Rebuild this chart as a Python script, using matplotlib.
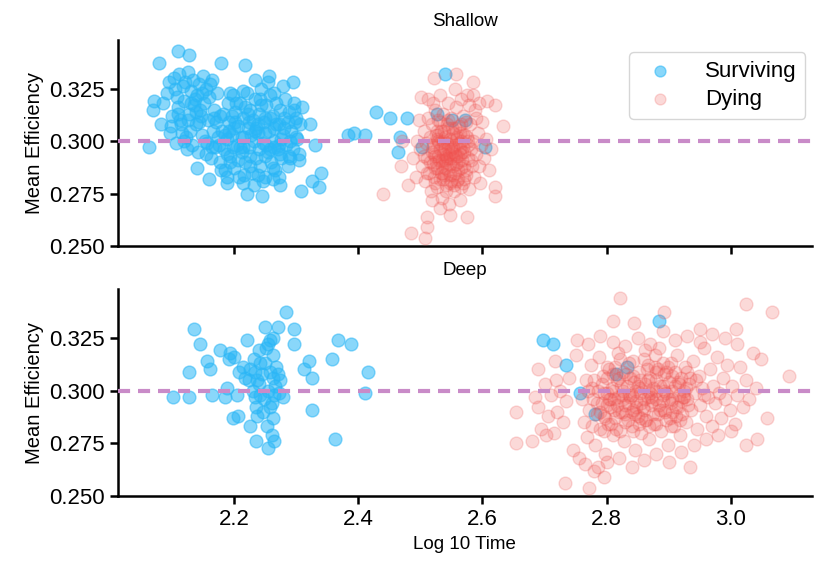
"""Shallow vs deep: mean efficiency against log10 time, surviving vs dying."""
import matplotlib
matplotlib.use("Agg")
import matplotlib.pyplot as plt
from matplotlib.ticker import FormatStrFormatter

plt.rcParams["font.family"] = ["Liberation Sans", "DejaVu Sans"]

# --------------------------------------------------------------
# Shallow panel
# --------------------------------------------------------------
shallow_surv_x = [
    2.063, 2.079, 2.110, 2.128, 2.179, 2.218, 2.256, 2.279, 2.295, 2.322,
    2.306, 2.330, 2.340, 2.325, 2.337, 2.308, 2.245, 2.221, 2.189, 2.160,
    2.140, 2.274, 2.305, 2.290, 2.071, 2.070, 2.083, 2.097,
    2.383, 2.393, 2.411, 2.428, 2.451, 2.478, 2.467, 2.464,
    2.540, 2.527, 2.572, 2.502, 2.604, 2.551,
    2.085, 2.092, 2.095, 2.100, 2.103, 2.108, 2.110, 2.112, 2.115, 2.118,
    2.120, 2.122, 2.125, 2.127, 2.130, 2.132, 2.134, 2.136, 2.138, 2.140,
    2.142, 2.144, 2.146, 2.148, 2.150, 2.152, 2.154, 2.156, 2.158, 2.160,
    2.162, 2.164, 2.166, 2.168, 2.106, 2.116, 2.098, 2.126, 2.172, 2.175,
    2.178, 2.170,
    2.180, 2.182, 2.184, 2.186, 2.188, 2.190, 2.192, 2.194, 2.196, 2.198,
    2.200, 2.202, 2.204, 2.206, 2.208, 2.210, 2.212, 2.214, 2.216, 2.218,
    2.220, 2.222, 2.224, 2.226, 2.228, 2.230, 2.232, 2.234, 2.236, 2.238,
    2.240, 2.242, 2.244, 2.246, 2.248, 2.250, 2.252, 2.254, 2.256, 2.258,
    2.260, 2.262, 2.264, 2.266, 2.268, 2.270, 2.272, 2.274, 2.276, 2.278,
    2.280, 2.283, 2.286, 2.289, 2.292, 2.295, 2.298, 2.301, 2.304, 2.246,
    2.232, 2.216, 2.262, 2.258, 2.236, 2.212, 2.196, 2.226, 2.244, 2.268,
    2.282, 2.254, 2.234, 2.214, 2.194, 2.198, 2.250, 2.240, 2.272, 2.206,
    2.188, 2.222, 2.264, 2.290, 2.310, 2.296, 2.300,
    2.104, 2.113, 2.121, 2.129, 2.137, 2.145, 2.153, 2.161, 2.169, 2.177,
    2.185, 2.193, 2.201, 2.209, 2.217, 2.225, 2.233, 2.241, 2.249, 2.257,
    2.265, 2.273, 2.281, 2.289, 2.297, 2.109, 2.119, 2.131, 2.143, 2.155,
    2.167, 2.179, 2.191, 2.203, 2.215, 2.227, 2.239, 2.251, 2.263, 2.275,
    2.287, 2.299, 2.124, 2.149, 2.174, 2.199, 2.224, 2.249, 2.274, 2.139,
    2.164, 2.189, 2.214, 2.239, 2.264,
]
shallow_surv_y = [
    0.297, 0.337, 0.343, 0.341, 0.337, 0.336, 0.331, 0.326, 0.328, 0.308,
    0.308, 0.298, 0.285, 0.281, 0.278, 0.276, 0.274, 0.275, 0.280, 0.282,
    0.287, 0.279, 0.294, 0.292, 0.319, 0.315, 0.308, 0.304,
    0.303, 0.304, 0.303, 0.314, 0.311, 0.311, 0.302, 0.295,
    0.332, 0.313, 0.310, 0.297, 0.297, 0.310,
    0.318, 0.323, 0.328, 0.312, 0.330, 0.321, 0.316, 0.332, 0.308, 0.326,
    0.319, 0.302, 0.333, 0.313, 0.324, 0.298, 0.329, 0.317, 0.308, 0.322,
    0.295, 0.327, 0.312, 0.303, 0.331, 0.318, 0.325, 0.299, 0.310, 0.321,
    0.292, 0.329, 0.305, 0.315, 0.299, 0.304, 0.307, 0.310, 0.323, 0.298,
    0.290, 0.309,
    0.305, 0.313, 0.296, 0.286, 0.301, 0.318, 0.309, 0.293, 0.303, 0.322,
    0.287, 0.314, 0.298, 0.307, 0.283, 0.318, 0.295, 0.311, 0.302, 0.290,
    0.323, 0.306, 0.297, 0.315, 0.285, 0.310, 0.300, 0.320, 0.292, 0.304,
    0.313, 0.288, 0.325, 0.299, 0.309, 0.283, 0.317, 0.295, 0.305, 0.322,
    0.290, 0.312, 0.300, 0.286, 0.318, 0.296, 0.308, 0.315, 0.292, 0.303,
    0.311, 0.298, 0.288, 0.314, 0.305, 0.296, 0.309, 0.301, 0.291, 0.281,
    0.279, 0.284, 0.282, 0.296, 0.306, 0.302, 0.312, 0.293, 0.317, 0.308,
    0.320, 0.328, 0.329, 0.324, 0.323, 0.297, 0.311, 0.296, 0.298, 0.291,
    0.294, 0.313, 0.323, 0.300, 0.316, 0.318, 0.311,
    0.325, 0.310, 0.328, 0.305, 0.320, 0.315, 0.300, 0.327, 0.297, 0.312,
    0.303, 0.290, 0.309, 0.297, 0.316, 0.288, 0.305, 0.320, 0.293, 0.311,
    0.297, 0.283, 0.306, 0.293, 0.315, 0.313, 0.300, 0.318, 0.309, 0.294,
    0.311, 0.286, 0.305, 0.318, 0.297, 0.303, 0.308, 0.298, 0.287, 0.301,
    0.309, 0.302, 0.296, 0.323, 0.302, 0.306, 0.309, 0.304, 0.294, 0.314,
    0.297, 0.283, 0.280, 0.284, 0.306,
]

shallow_dying_x = [
    2.440, 2.485, 2.507, 2.511, 2.510, 2.548, 2.575, 2.620, 2.620, 2.633,
    2.620, 2.607, 2.585, 2.585, 2.557, 2.522, 2.501, 2.469, 2.480, 2.470,
    2.500, 2.503, 2.505, 2.507, 2.509, 2.511, 2.512, 2.514, 2.515, 2.517,
    2.518, 2.519, 2.520, 2.521, 2.522, 2.523, 2.524, 2.525, 2.526, 2.527,
    2.528, 2.529, 2.530, 2.531, 2.532, 2.533, 2.534, 2.535, 2.536, 2.537,
    2.538, 2.539, 2.540, 2.541, 2.542, 2.543, 2.544, 2.545, 2.546, 2.547,
    2.548, 2.549, 2.550, 2.551, 2.552, 2.553, 2.554, 2.555, 2.556, 2.557,
    2.558, 2.559, 2.560, 2.561, 2.562, 2.563, 2.564, 2.565, 2.566, 2.567,
    2.568, 2.569, 2.570, 2.572, 2.574, 2.576, 2.578, 2.580, 2.582, 2.584,
    2.586, 2.588, 2.590, 2.592, 2.594, 2.596, 2.598, 2.600, 2.603, 2.606,
    2.610, 2.614, 2.505, 2.510, 2.516, 2.522, 2.528, 2.534, 2.540, 2.546,
    2.552, 2.558, 2.564, 2.570, 2.576, 2.582, 2.530, 2.538, 2.544, 2.550,
    2.556, 2.562, 2.568, 2.574, 2.536, 2.542, 2.548, 2.554, 2.560, 2.566,
    2.524, 2.518, 2.532, 2.540, 2.547, 2.553, 2.543, 2.537, 2.526, 2.520,
    2.545, 2.566, 2.578, 2.590, 2.498, 2.495, 2.493, 2.488, 2.512, 2.532,
    2.556, 2.575, 2.594,
    2.521, 2.525, 2.529, 2.533, 2.537, 2.541, 2.545, 2.549, 2.553, 2.557,
    2.561, 2.565, 2.569, 2.573, 2.577, 2.523, 2.531, 2.539, 2.547, 2.555,
    2.563, 2.571, 2.527, 2.535, 2.543, 2.551, 2.559, 2.567, 2.575, 2.583,
]
shallow_dying_y = [
    0.275, 0.256, 0.254, 0.264, 0.259, 0.265, 0.264, 0.278, 0.274, 0.307,
    0.317, 0.319, 0.328, 0.322, 0.332, 0.330, 0.321, 0.288, 0.279, 0.300,
    0.296, 0.288, 0.305, 0.281, 0.299, 0.292, 0.311, 0.285, 0.302, 0.276,
    0.295, 0.308, 0.289, 0.298, 0.283, 0.315, 0.293, 0.303, 0.278, 0.287,
    0.300, 0.310, 0.291, 0.282, 0.296, 0.305, 0.273, 0.288, 0.299, 0.313,
    0.284, 0.294, 0.302, 0.279, 0.290, 0.308, 0.297, 0.286, 0.270, 0.301,
    0.292, 0.281, 0.311, 0.295, 0.288, 0.304, 0.276, 0.298, 0.285, 0.316,
    0.293, 0.302, 0.282, 0.290, 0.307, 0.296, 0.272, 0.287, 0.300, 0.291,
    0.312, 0.280, 0.295, 0.303, 0.286, 0.298, 0.277, 0.308, 0.291, 0.300,
    0.283, 0.315, 0.294, 0.304, 0.288, 0.280, 0.298, 0.309, 0.292, 0.301,
    0.286, 0.296, 0.293, 0.285, 0.290, 0.294, 0.293, 0.291, 0.287, 0.294,
    0.297, 0.289, 0.294, 0.288, 0.292, 0.296, 0.299, 0.305, 0.310, 0.300,
    0.306, 0.299, 0.303, 0.309, 0.282, 0.276, 0.284, 0.279, 0.286, 0.278,
    0.280, 0.272, 0.268, 0.296, 0.289, 0.292, 0.299, 0.294, 0.305, 0.318,
    0.318, 0.320, 0.317, 0.311, 0.310, 0.300, 0.283, 0.292, 0.320, 0.322,
    0.325, 0.322, 0.318,
    0.297, 0.290, 0.303, 0.285, 0.300, 0.293, 0.306, 0.296, 0.284, 0.301,
    0.293, 0.308, 0.297, 0.284, 0.300, 0.287, 0.309, 0.291, 0.280, 0.294,
    0.304, 0.282, 0.301, 0.285, 0.292, 0.306, 0.281, 0.295, 0.302, 0.288,
]

# --------------------------------------------------------------
# Deep panel
# --------------------------------------------------------------
deep_surv_x = [
    2.102, 2.128, 2.128, 2.136, 2.145, 2.157, 2.165, 2.161, 2.177, 2.186,
    2.189, 2.194, 2.192, 2.198, 2.207, 2.205, 2.218, 2.221, 2.226, 2.235,
    2.237, 2.234, 2.237, 2.242, 2.250, 2.253, 2.255, 2.258, 2.261, 2.261,
    2.264, 2.263, 2.263, 2.270, 2.274, 2.279, 2.283, 2.296, 2.297, 2.313,
    2.320, 2.326, 2.325, 2.357, 2.363, 2.368, 2.388, 2.410, 2.416,
    2.226, 2.232, 2.240, 2.245, 2.250, 2.255, 2.248, 2.258, 2.262, 2.266,
    2.268, 2.252, 2.236, 2.242, 2.230, 2.224, 2.246, 2.258, 2.264, 2.272,
    2.270, 2.214, 2.208, 2.200, 2.255, 2.262, 2.240, 2.233,
    2.697, 2.713, 2.734, 2.757, 2.781, 2.815, 2.832, 2.884,
]
deep_surv_y = [
    0.297, 0.297, 0.309, 0.329, 0.322, 0.314, 0.298, 0.310, 0.319, 0.297,
    0.301, 0.318, 0.315, 0.287, 0.288, 0.298, 0.306, 0.324, 0.283, 0.276,
    0.288, 0.297, 0.305, 0.313, 0.330, 0.283, 0.273, 0.324, 0.294, 0.279,
    0.276, 0.287, 0.306, 0.330, 0.305, 0.297, 0.337, 0.329, 0.322, 0.310,
    0.314, 0.306, 0.291, 0.315, 0.277, 0.324, 0.322, 0.299, 0.309,
    0.310, 0.315, 0.303, 0.308, 0.313, 0.300, 0.296, 0.309, 0.317, 0.302,
    0.311, 0.320, 0.292, 0.298, 0.300, 0.305, 0.290, 0.292, 0.298, 0.299,
    0.308, 0.311, 0.309, 0.316, 0.322, 0.325, 0.319, 0.309,
    0.324, 0.322, 0.312, 0.299, 0.289, 0.308, 0.311, 0.333,
]

deep_dying_x = [
    2.654, 2.654, 2.689, 2.702, 2.733, 2.771, 2.795, 2.786, 2.821, 2.811,
    2.844, 2.934, 3.025, 3.067, 3.093, 3.058, 3.042, 3.025, 3.009, 3.049,
    2.951, 2.892, 2.752, 2.717, 2.719,
    2.760, 2.763, 2.766, 2.768, 2.770, 2.772, 2.774, 2.776, 2.778, 2.780,
    2.782, 2.784, 2.786, 2.788, 2.790, 2.792, 2.794, 2.796, 2.798, 2.800,
    2.802, 2.804, 2.806, 2.808, 2.810, 2.812, 2.814, 2.816, 2.818, 2.820,
    2.822, 2.824, 2.826, 2.828, 2.830, 2.832, 2.834, 2.836, 2.838, 2.840,
    2.842, 2.844, 2.846, 2.848, 2.850, 2.852, 2.854, 2.856, 2.858, 2.860,
    2.862, 2.864, 2.866, 2.868, 2.870, 2.872, 2.874, 2.876, 2.878, 2.880,
    2.882, 2.884, 2.886, 2.888, 2.890, 2.892, 2.894, 2.896, 2.898, 2.900,
    2.902, 2.904, 2.906, 2.908, 2.910, 2.912, 2.914, 2.916, 2.918, 2.920,
    2.922, 2.924, 2.926, 2.928, 2.930, 2.933, 2.936, 2.939, 2.942, 2.945,
    2.948, 2.951, 2.954, 2.957, 2.960, 2.963, 2.966, 2.969, 2.972, 2.975,
    2.978, 2.981, 2.984, 2.987, 2.990, 2.994, 2.998, 3.002, 3.006, 3.010,
    3.015, 3.020, 3.025, 3.030, 3.035, 3.040, 3.010, 2.990, 2.970, 2.950,
    2.930, 2.910, 2.890, 2.870, 2.850, 2.830, 2.810, 2.790, 2.770, 2.750,
    2.740, 2.735, 2.730, 2.725, 2.720, 2.715, 2.710, 2.705, 2.700, 2.695,
    2.690, 2.685, 2.680, 2.745, 2.755, 2.765, 2.780, 2.800, 2.820, 2.840,
    2.860, 2.880, 2.900, 2.920, 2.940, 2.960, 2.980, 3.000,
    2.800, 2.810, 2.820, 2.830, 2.840, 2.850, 2.860, 2.870, 2.880, 2.890,
    2.900, 2.910, 2.920, 2.860, 2.845, 2.835, 2.825, 2.815, 2.805, 2.795,
    2.785, 2.875, 2.885, 2.895, 2.905, 2.915, 2.925, 2.935, 2.865, 2.855,
    2.826, 2.838, 2.852, 2.868, 2.882, 2.896, 2.906, 2.790, 2.776, 2.812,
    2.846, 2.872, 2.890, 2.878, 2.862, 2.842, 2.822, 2.800,
    2.792, 2.798, 2.804, 2.811, 2.817, 2.823, 2.829, 2.836, 2.842, 2.848,
    2.854, 2.861, 2.867, 2.873, 2.879, 2.886, 2.892, 2.898, 2.904, 2.911,
    2.917, 2.923, 2.929, 2.795, 2.807, 2.819, 2.831, 2.843, 2.855, 2.867,
    2.879, 2.891, 2.903, 2.915, 2.927, 2.801, 2.814, 2.827, 2.840, 2.853,
    2.866, 2.879, 2.892, 2.905, 2.918, 2.931, 2.944, 2.957,
]
deep_dying_y = [
    0.290, 0.275, 0.292, 0.279, 0.256, 0.254, 0.259, 0.264, 0.344, 0.333,
    0.332, 0.264, 0.341, 0.337, 0.307, 0.287, 0.277, 0.274, 0.329, 0.315,
    0.329, 0.337, 0.324, 0.314, 0.305,
    0.296, 0.285, 0.305, 0.278, 0.300, 0.291, 0.312, 0.283, 0.296, 0.305,
    0.274, 0.289, 0.300, 0.316, 0.282, 0.294, 0.307, 0.288, 0.270, 0.299,
    0.284, 0.310, 0.292, 0.301, 0.279, 0.296, 0.287, 0.305, 0.318, 0.290,
    0.281, 0.298, 0.309, 0.276, 0.293, 0.302, 0.286, 0.313, 0.297, 0.283,
    0.291, 0.304, 0.272, 0.295, 0.288, 0.309, 0.299, 0.280, 0.292, 0.315,
    0.303, 0.286, 0.297, 0.277, 0.306, 0.293, 0.301, 0.284, 0.311, 0.296,
    0.289, 0.320, 0.302, 0.281, 0.295, 0.308, 0.290, 0.299, 0.274, 0.304,
    0.287, 0.313, 0.296, 0.283, 0.302, 0.292, 0.317, 0.298, 0.279, 0.306,
    0.289, 0.300, 0.311, 0.285, 0.296, 0.303, 0.291, 0.314, 0.299, 0.282,
    0.307, 0.293, 0.301, 0.320, 0.288, 0.297, 0.310, 0.283, 0.302, 0.294,
    0.316, 0.299, 0.287, 0.306, 0.296, 0.312, 0.291, 0.302, 0.284, 0.298,
    0.311, 0.292, 0.305, 0.296, 0.318, 0.301, 0.322, 0.325, 0.327, 0.323,
    0.326, 0.324, 0.328, 0.322, 0.325, 0.321, 0.323, 0.326, 0.322, 0.317,
    0.306, 0.295, 0.285, 0.300, 0.290, 0.280, 0.298, 0.288, 0.303, 0.282,
    0.310, 0.297, 0.276, 0.272, 0.268, 0.265, 0.262, 0.266, 0.268, 0.264,
    0.267, 0.270, 0.266, 0.271, 0.274, 0.277, 0.279, 0.281,
    0.293, 0.300, 0.306, 0.285, 0.298, 0.302, 0.291, 0.299, 0.305, 0.302,
    0.296, 0.309, 0.295, 0.296, 0.289, 0.294, 0.290, 0.282, 0.296, 0.299,
    0.294, 0.289, 0.293, 0.286, 0.300, 0.304, 0.297, 0.306, 0.310, 0.294,
    0.300, 0.306, 0.284, 0.283, 0.310, 0.309, 0.290, 0.290, 0.301, 0.291,
    0.300, 0.297, 0.313, 0.317, 0.319, 0.314, 0.315, 0.311,
    0.303, 0.287, 0.296, 0.308, 0.293, 0.302, 0.289, 0.298, 0.307, 0.292,
    0.301, 0.286, 0.305, 0.295, 0.309, 0.291, 0.300, 0.311, 0.294, 0.288,
    0.303, 0.297, 0.309, 0.281, 0.284, 0.297, 0.308, 0.281, 0.287, 0.312,
    0.284, 0.298, 0.283, 0.292, 0.301, 0.306, 0.311, 0.296, 0.290, 0.305,
    0.300, 0.300, 0.291, 0.307, 0.286, 0.293, 0.305, 0.298,
]

X_TICKS = [2.2, 2.4, 2.6, 2.8, 3.0]
Y_TICKS = [0.250, 0.275, 0.300, 0.325]

BLUE = "#29B6F6"
RED = "#EF5350"
PLUM = "#C98BC8"


def draw_panel(ax, surv_x, surv_y, dying_x, dying_y, title):
    ax.scatter(surv_x, surv_y, s=85, color=BLUE, alpha=0.55,
               edgecolors=BLUE, linewidths=1.0, label="Surviving", zorder=2)
    ax.scatter(dying_x, dying_y, s=85, color=RED, alpha=0.22,
               edgecolors=RED, linewidths=1.0, label="Dying", zorder=3)
    ax.axhline(0.3, color=PLUM, lw=3, ls=(0, (2.9, 1.9)), zorder=4)
    ax.set_xlim(2.013, 3.13)
    ax.set_ylim(0.250, 0.348)
    ax.set_xticks(X_TICKS)
    ax.set_yticks(Y_TICKS)
    ax.yaxis.set_major_formatter(FormatStrFormatter("%.3f"))
    ax.set_ylabel("Mean Efficiency", fontsize=14.5)
    ax.set_title(title, fontsize=13.5, pad=10)
    ax.tick_params(labelsize=16, length=6, width=1.8)
    for side in ("top", "right"):
        ax.spines[side].set_visible(False)
    for side in ("left", "bottom"):
        ax.spines[side].set_linewidth(1.8)


def main() -> None:
    fig = plt.figure(figsize=(8.14, 5.67), dpi=100)
    ax_top = fig.add_axes([0.145, 0.566, 0.852, 0.363])
    ax_bot = fig.add_axes([0.145, 0.125, 0.852, 0.365])

    draw_panel(ax_top, shallow_surv_x, shallow_surv_y,
               shallow_dying_x, shallow_dying_y, "Shallow")
    draw_panel(ax_bot, deep_surv_x, deep_surv_y,
               deep_dying_x, deep_dying_y, "Deep")

    ax_top.tick_params(labelbottom=False)
    ax_bot.set_xlabel("Log 10 Time", fontsize=13.5)

    leg = ax_top.legend(loc="upper right", fontsize=16, frameon=True,
                        fancybox=True, borderpad=0.4, labelspacing=0.3,
                        handletextpad=1.0, markerscale=0.85,
                        bbox_to_anchor=(0.991, 0.942), borderaxespad=0)
    leg.get_frame().set_edgecolor("#cccccc")
    leg.get_frame().set_linewidth(1.0)

    fig.savefig("out.png", dpi=100)
    plt.close(fig)


if __name__ == "__main__":
    main()
